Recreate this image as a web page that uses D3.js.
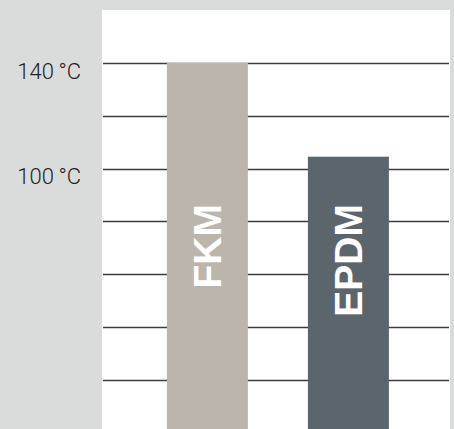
<!DOCTYPE html>
<html>
<head>
<meta charset="utf-8">
<script src="https://cdn.jsdelivr.net/npm/d3@7"></script>
<style>
  body { margin: 0; background: #dadcdb; }
  svg { display: block; }
</style>
</head>
<body>
<div id="chart"></div>
<script>
// materials and their max temperature (°C)
const materials = ['FKM', 'EPDM'];
const maxTemps = [140, 104.5];
const barColors = ['#bcb5ab', '#5b666c'];

// grid lines every 20 °C, labels only on two of them
const gridValues = [20, 40, 60, 80, 100, 120, 140];
const labelValues = [140, 100];
const labelText = ['140\u2009°C', '100\u2009°C'];

const dimensions = {
    width: 454,
    height: 429
}

const svg = d3.select('#chart')
    .append('svg')
    .attr('width', dimensions.width)
    .attr('height', dimensions.height)

svg.append('rect')
    .attr('width', dimensions.width)
    .attr('height', dimensions.height)
    .attr('fill', '#dadcdb')

// white plot panel
svg.append('rect')
    .attr('x', 102)
    .attr('y', 10)
    .attr('width', 348)
    .attr('height', dimensions.height)
    .attr('fill', '#ffffff')

const yScale = d3.scaleLinear()
    .domain([0, 140])
    .range([432.5, 63])

const xScale = d3.scaleBand()
    .domain(materials)
    .range([126, 429.8])
    .paddingInner(0.4255)
    .paddingOuter(0.29)

// grid
svg.append('g')
    .selectAll('line')
    .data(gridValues)
    .join('line')
    .attr('x1', 103)
    .attr('x2', 449)
    .attr('y1', d => Math.round(yScale(d)) + 0.5)
    .attr('y2', d => Math.round(yScale(d)) + 0.5)
    .attr('stroke', '#3c3c3c')
    .attr('stroke-width', 1.3)

// y labels
svg.append('g')
    .selectAll('text')
    .data(labelValues)
    .join('text')
    .attr('x', 81)
    .attr('y', d => yScale(d) + 15.5)
    .attr('text-anchor', 'end')
    .attr('font-family', 'Roboto, "Liberation Sans", sans-serif')
    .attr('font-weight', 300)
    .attr('font-size', 22)
    .attr('fill', '#222')
    .text((d, i) => labelText[i])

// bars
const bars = svg.append('g')
    .selectAll('g')
    .data(materials)
    .join('g')

bars.append('rect')
    .attr('x', d => xScale(d))
    .attr('y', (d, i) => yScale(maxTemps[i]))
    .attr('width', xScale.bandwidth())
    .attr('height', (d, i) => dimensions.height - yScale(maxTemps[i]))
    .attr('fill', (d, i) => barColors[i])

bars.append('text')
    .attr('transform', d => `translate(${xScale(d) + xScale.bandwidth() / 2}, 204) rotate(-90)`)
    .attr('text-anchor', 'end')
    .attr('dominant-baseline', 'central')
    .attr('font-family', '"Liberation Sans", Arial, sans-serif')
    .attr('font-weight', 'bold')
    .attr('font-size', 39)
    .attr('fill', '#ffffff')
    .text(d => d)
</script>
</body>
</html>
